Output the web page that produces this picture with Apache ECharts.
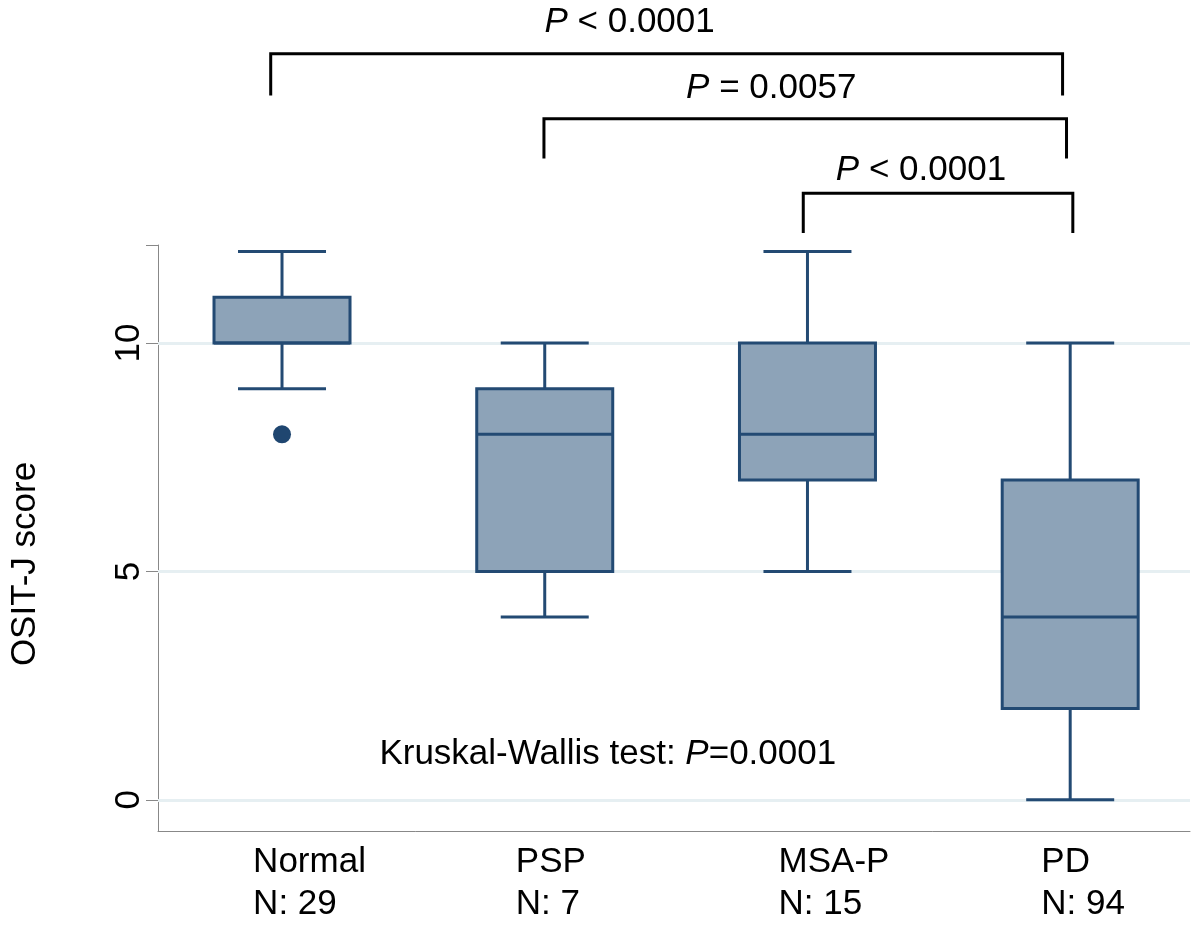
<!DOCTYPE html>
<html>
<head>
<meta charset="utf-8">
<script src="https://cdn.jsdelivr.net/npm/echarts@6/dist/echarts.min.js"></script>
<style>html,body{margin:0;padding:0;background:#fff;}#c{width:1200px;height:925px;}</style>
</head>
<body>
<div id="c"></div>
<script>
// ---- data ----
const categories = ['Normal', 'PSP', 'MSA-P', 'PD'];
const counts = [29, 7, 15, 94];
// [low whisker, Q1, median, Q3, high whisker]
const lowWhisker = [9, 4, 5, 0];
const q1Values   = [10, 5, 7, 2];
const medians    = [10, 8, 8, 4];
const q3Values   = [11, 9, 10, 7];
const highWhisker= [12, 10, 12, 10];
const outliers = [[1, 8]];             // [group position, value]
const yTickLabels = [0, 5, 10];
// significance brackets: [left x, right x, bar level, leg end level]
const bracketLeft  = [0.957, 1.997, 2.984];
const bracketRight = [3.971, 3.986, 4.010];
const bracketTop   = [16.33, 14.91, 13.28];
const bracketLeg   = [15.42, 14.04, 12.41];
const pTexts = ['{i|P} < 0.0001', '{i|P} = 0.0057', '{i|P} < 0.0001'];
const pTextX = [2.323, 2.862, 3.432];
const pTextY = [17.02, 15.58, 13.79];
const kwText = 'Kruskal-Wallis test: {i|P}=0.0001';
const kwPos = [2.240, 1.0];

// ---- styles ----
const FONT = '"Liberation Sans", Arial, Helvetica, sans-serif';
const FS = 35;
const EDGE = '#234a73';
const FILL = '#8da3b8';
const LABEL_SHIFT = 0.11;

const boxData = categories.map((c, i) => [i + 1, lowWhisker[i], q1Values[i], medians[i], q3Values[i], highWhisker[i]]);
const bracketData = bracketLeft.map((l, i) => [l, bracketRight[i], bracketTop[i], bracketLeg[i]]);
const pData = pTextX.map((x, i) => [x, pTextY[i]]);

function renderBox(params, api) {
  const x = api.value(0);
  const lo = api.coord([x, api.value(1)]);
  const q1 = api.coord([x, api.value(2)]);
  const md = api.coord([x, api.value(3)]);
  const q3 = api.coord([x, api.value(4)]);
  const hi = api.coord([x, api.value(5)]);
  const cx = lo[0];
  const bh = 68, ch = 44;
  const ls = {stroke: EDGE, lineWidth: 3, fill: null};
  return {
    type: 'group',
    children: [
      {type: 'line', shape: {x1: cx, y1: hi[1], x2: cx, y2: q3[1]}, style: ls},
      {type: 'line', shape: {x1: cx, y1: q1[1], x2: cx, y2: lo[1]}, style: ls},
      {type: 'line', shape: {x1: cx - ch, y1: hi[1], x2: cx + ch, y2: hi[1]}, style: ls},
      {type: 'line', shape: {x1: cx - ch, y1: lo[1], x2: cx + ch, y2: lo[1]}, style: ls},
      {type: 'rect', shape: {x: cx - bh, y: q3[1], width: bh * 2, height: q1[1] - q3[1]},
        style: {fill: FILL, stroke: EDGE, lineWidth: 3}},
      {type: 'line', shape: {x1: cx - bh, y1: md[1], x2: cx + bh, y2: md[1]}, style: ls}
    ]
  };
}

function renderBracket(params, api) {
  const a = api.coord([api.value(0), api.value(3)]);
  const b = api.coord([api.value(0), api.value(2)]);
  const c = api.coord([api.value(1), api.value(2)]);
  const d = api.coord([api.value(1), api.value(3)]);
  return {type: 'polyline', shape: {points: [a, b, c, d]},
    style: {stroke: '#000', lineWidth: 3, fill: null}};
}

const rich = {i: {fontStyle: 'italic', fontFamily: FONT, fontSize: FS, fill: '#000'}};

function renderPText(params, api) {
  const p = api.coord([api.value(0), api.value(1)]);
  return {type: 'text', x: p[0], y: p[1],
    style: {text: pTexts[params.dataIndex], font: FS + 'px ' + FONT, fill: '#000',
      align: 'center', verticalAlign: 'middle', rich: rich}};
}
function renderKW(params, api) {
  const p = api.coord([api.value(0), api.value(1)]);
  return {type: 'text', x: p[0], y: p[1],
    style: {text: kwText, font: FS + 'px ' + FONT, fill: '#000',
      align: 'center', verticalAlign: 'middle', rich: rich}};
}

const chart = echarts.init(document.getElementById('c'), null, {renderer: 'canvas'});
chart.setOption({
  animation: false,
  backgroundColor: '#fff',
  grid: {left: 155, right: 10, top: 245, bottom: 92},
  xAxis: {
    type: 'value', min: 0.528, max: 4.456,
    axisLine: {show: true, onZero: false, lineStyle: {color: '#888', width: 1}},
    axisTick: {show: false},
    splitLine: {show: false},
    axisLabel: {
      customValues: categories.map((c, i) => i + 1 - LABEL_SHIFT),
      formatter: v => {
        const i = Math.round(v + LABEL_SHIFT) - 1;
        return categories[i] + '\nN: ' + counts[i];
      },
      align: 'left', color: '#000', fontSize: FS, fontFamily: FONT, lineHeight: 42, margin: 10
    }
  },
  yAxis: {
    type: 'value', min: -0.683, max: 12.145,
    name: 'OSIT-J score', nameLocation: 'middle', nameGap: 115,
    nameTextStyle: {color: '#000', fontSize: FS, fontFamily: FONT, padding: [0, 52, 0, 0]},
    axisLine: {show: true, lineStyle: {color: '#888', width: 1}},
    axisTick: {show: true, length: 12, customValues: yTickLabels.concat([12.145]), lineStyle: {color: '#888'}},
    splitLine: {show: false},
    axisLabel: {customValues: yTickLabels, rotate: 90, color: '#000', fontSize: FS, fontFamily: FONT, margin: 11}
  },
  series: [
    {
      type: 'custom', name: 'grid', z: 1, data: [],
      markLine: {
        silent: true, symbol: 'none', z: 1, animation: false,
        label: {show: false},
        lineStyle: {color: '#e6eff2', width: 3, type: 'solid'},
        data: yTickLabels.map(v => ({yAxis: v}))
      },
      renderItem: () => null
    },
    {type: 'custom', name: 'box', z: 3, data: boxData, renderItem: renderBox, encode: {x: 0, y: [1, 2, 3, 4, 5]}},
    {type: 'scatter', name: 'outlier', z: 4, data: outliers, symbol: 'circle', symbolSize: 18,
      itemStyle: {color: '#1f4670', opacity: 1}},
    {type: 'custom', name: 'brackets', z: 5, clip: false, data: bracketData, renderItem: renderBracket,
      encode: {x: [0, 1], y: [2, 3]}},
    {type: 'custom', name: 'ptext', z: 5, clip: false, data: pData, renderItem: renderPText, encode: {x: 0, y: 1}},
    {type: 'custom', name: 'kw', z: 5, clip: false, data: [kwPos], renderItem: renderKW, encode: {x: 0, y: 1}}
  ]
});
</script>
</body>
</html>
